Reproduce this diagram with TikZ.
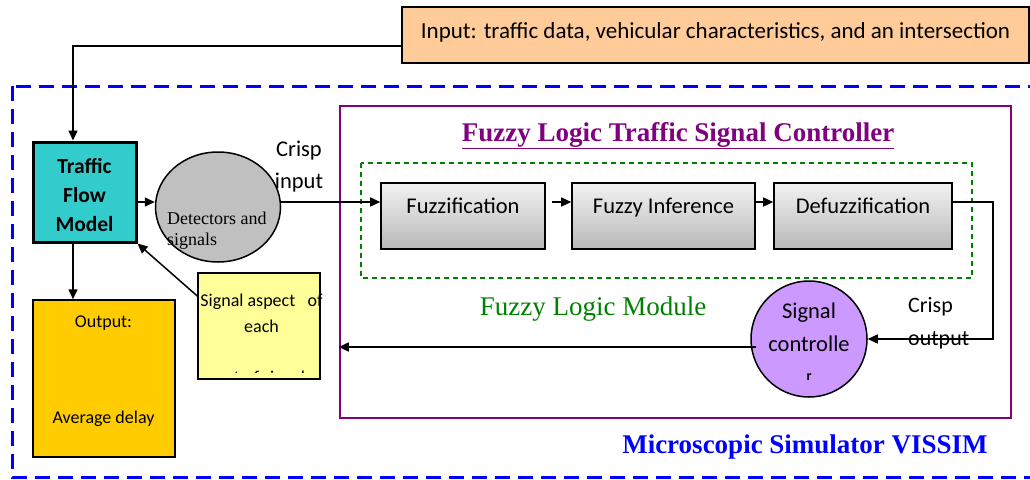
\documentclass[tikz,border=0pt]{standalone}
\usepackage{fontspec}
\setmainfont{Liberation Serif}
\newfontfamily\carl{Carlito}
\usetikzlibrary{arrows.meta,shapes.geometric,calc}
\definecolor{inpfill}{HTML}{FFCC99}
\definecolor{tfmfill}{HTML}{33CCCC}
\definecolor{detfill}{HTML}{C0C0C0}
\definecolor{outfill}{HTML}{FFCC00}
\definecolor{safill}{HTML}{FFFF99}
\definecolor{ctrlfill}{HTML}{CC99FF}
\definecolor{flcpurple}{HTML}{800080}
\definecolor{modgreen}{HTML}{008000}
\definecolor{simblue}{HTML}{0000FF}
\definecolor{gtop}{HTML}{F2F2F2}
\definecolor{gbot}{HTML}{B8B8B8}
\tikzset{
  arr/.style={draw=black,line width=1.5pt,-{Triangle[length=10pt,width=9pt]}},
  stagebox/.style={draw=black,line width=1.6pt,top color=gtop,bottom color=gbot,inner sep=0pt,
    minimum height=66pt,font=\carl\fontsize{22.5}{26}\selectfont,text height=15pt,text depth=21pt},
  sanstext/.style={font=\carl\fontsize{22.5}{32}\selectfont,align=center,inner sep=0pt},
  boxtext/.style={font=\carl\fontsize{18}{22}\selectfont,inner sep=0pt,anchor=base},
}
\begin{document}
\begin{tikzpicture}[x=1pt,y=-1pt]
\useasboundingbox (0,0) rectangle (1030,479);
% VISSIM frame
\draw[simblue,line width=3pt,dash pattern=on 15pt off 8pt] (12,86) rectangle (1045,477);
% input
\node[draw=black,line width=1.2pt,fill=inpfill,minimum width=627pt,minimum height=56pt,inner sep=0pt,
  font=\carl\fontsize{23}{26}\selectfont,text height=16pt,text depth=10pt] (inp) at (715.5,35) {Input: traffic data, vehicular characteristics, and an intersection};
% FLC frame
\node[draw=flcpurple,line width=2.5pt,minimum width=671pt,minimum height=312pt,inner sep=0pt] (flc) at (675.5,262) {};
\node[font=\bfseries\fontsize{27}{30}\selectfont,text=flcpurple,inner sep=0pt,anchor=base] (flctitle) at (678,141) {\underline{Fuzzy Logic Traffic Signal Controller}};
% fuzzy logic module
\draw[modgreen,line width=1.2pt,dash pattern=on 5pt off 4pt] (361,163) rectangle (972,278);
\node[font=\fontsize{27}{30}\selectfont,text=modgreen,inner sep=0pt,anchor=base] (fmlabel) at (593,315) {Fuzzy Logic Module};
\node[font=\bfseries\fontsize{27}{30}\selectfont,text=simblue,inner sep=0pt,anchor=base] (simlabel) at (805,453) {Microscopic Simulator VISSIM};
% stages
\node[stagebox,minimum width=164pt] (fuzz) at (463,216) {Fuzzification};
\node[stagebox,minimum width=183pt] (inf) at (663.5,216) {Fuzzy Inference};
\node[stagebox,minimum width=178pt] (defuzz) at (863,216) {Defuzzification};
% traffic flow model
\node[draw=black,line width=3pt,fill=tfmfill,minimum width=103pt,minimum height=100pt,inner sep=0pt] (tfm) at (84.5,192) {};
\node[font=\carl\bfseries\fontsize{21.5}{29}\selectfont,align=center,inner sep=0pt] (tfmtext) at (84.5,195) {Traffic\\Flow\\Model};
% detectors
\node[draw=black,line width=1.5pt,fill=detfill,ellipse,minimum width=125pt,minimum height=110pt,inner sep=0pt] (det) at (218,207) {};
\node[font=\fontsize{18}{21}\selectfont,align=left,anchor=west,inner sep=0pt] (detlabel) at (167,230.5) {Detectors and\\signals};
\node[sanstext] (crispin) at (299,167) {Crisp\\input};
% output
\node[draw=black,line width=1.5pt,fill=outfill,minimum width=142pt,minimum height=157pt,inner sep=0pt] (out) at (104,378.5) {};
\node[boxtext] (outa) at (103.5,327) {Output:};
\node[boxtext] (outb) at (103.5,423) {Average delay};
% signal aspect
\node[draw=black,line width=1.5pt,fill=safill,minimum width=122pt,minimum height=106pt,inner sep=0pt] (sa) at (259,326) {};
\begin{scope}
\clip (190,270) rectangle (340,372.5);
\node[font=\carl\fontsize{18}{26}\selectfont,align=center,inner sep=0pt,anchor=north] (satext) at (261.5,294) {Signal aspect \ \ of\\each\\[25pt]set of signal};
\end{scope}
% signal controller
\node[draw=black,line width=1.5pt,fill=ctrlfill,circle,minimum size=116pt,inner sep=0pt] (ctrl) at (809,339) {};
\node[font=\carl\fontsize{22.5}{33}\selectfont,align=center,inner sep=0pt,anchor=north] (ctrltext) at (809,303) {Signal\\controlle\\[-4pt]{\fontsize{14}{14}\selectfont\bfseries r}};
\node[font=\carl\fontsize{22}{33}\selectfont,align=left,inner sep=0pt,anchor=west] (crispout) at (908,323) {Crisp\\output};
% connectors
\draw[arr] ([yshift=-11pt]inp.west) -| ([xshift=-11.5pt]tfm.north);
\draw[arr] ([yshift=-10pt]tfm.east) -- ([yshift=-10pt]tfm.east -| det.west);
\draw[arr] ([yshift=14pt]fuzz.west -| det.east) -- ([yshift=14pt]fuzz.west);
\draw[arr] ([yshift=14pt,xshift=6pt]fuzz.east) -- ([yshift=14pt]inf.west);
\draw[arr] ([yshift=14pt]inf.east) -- ([yshift=14pt]defuzz.west);
\draw[arr] ([yshift=14pt]defuzz.east) -- ++(40,0) |- (ctrl.east);
\draw[arr] ([yshift=-8pt,xshift=6pt]ctrl.west) -- ([yshift=-8pt]ctrl.west -| flc.west);
\draw[arr] ([yshift=30pt]sa.west) -- (tfm.south east);
\draw[arr] ([xshift=-11.5pt]tfm.south) -- ([xshift=-11.5pt]tfm.south |- out.north);
\end{tikzpicture}
\end{document}
